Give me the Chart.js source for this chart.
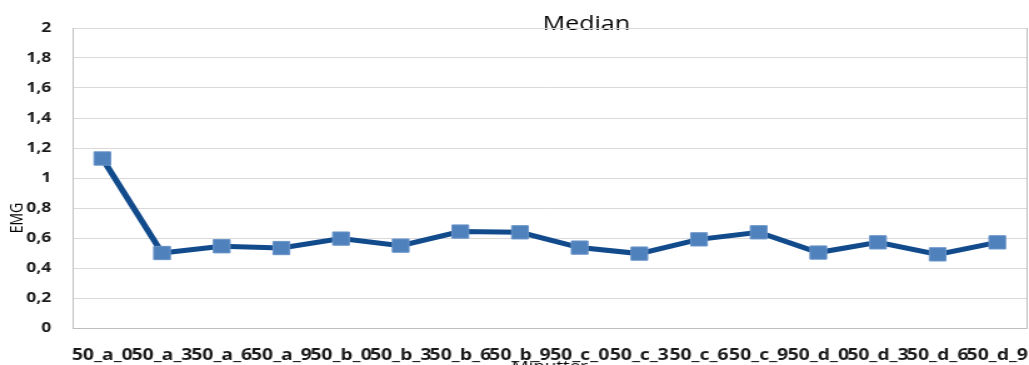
<!DOCTYPE html>
<html>
<head>
<meta charset="utf-8">
<title>Median</title>
<script src="https://cdn.jsdelivr.net/npm/chart.js@4.4.1/dist/chart.umd.min.js"></script>
<style>
  html, body { margin: 0; padding: 0; background: #fff; overflow: hidden; }
  /* the chart is laid out narrow and widened, as in the exported sheet */
  #wrap { width: 823px; height: 365px; transform: scaleX(1.2503); transform-origin: 0 0; }
</style>
</head>
<body>
<div id="wrap"><canvas id="medianChart" width="823" height="365"></canvas></div>
<script>
// ============================================================
// DATA
// ============================================================
const categories = [
    '50_a_0', '50_a_3', '50_a_6', '50_a_9',
    '50_b_0', '50_b_3', '50_b_6', '50_b_9',
    '50_c_0', '50_c_3', '50_c_6', '50_c_9',
    '50_d_0', '50_d_3', '50_d_6', '50_d_9'
];
const medianValues = [
    1.13, 0.50, 0.545, 0.533,
    0.596, 0.549, 0.643, 0.638,
    0.536, 0.496, 0.591, 0.638,
    0.503, 0.571, 0.491, 0.571
];
const yMin = 0;
const yMax = 2;
const yStep = 0.2;

const TITLE = 'Median';
const X_TITLE = 'Minutter';
const Y_TITLE = 'EMG';

// ============================================================
// UTIL
// ============================================================
function commaNumber(v) {
    return String(Math.round(v * 10) / 10).replace('.', ',');
}

// titles + right frame line, drawn straight on the canvas
const chartTexts = {
    id: 'chartTexts',
    beforeDraw(chart) {
        const { ctx, chartArea } = chart;
        ctx.save();
        ctx.fillStyle = '#000';
        ctx.textAlign = 'center';

        ctx.font = '20px "Open Sans"';
        ctx.textBaseline = 'alphabetic';
        ctx.fillText(TITLE, 469, 30);

        // axis title sits low, tick labels end up on top of it
        ctx.font = '15px "Open Sans"';
        ctx.fillText(X_TITLE, (chartArea.left + chartArea.right) / 2, 371);

        ctx.translate(14.5, 218);
        ctx.rotate(-Math.PI / 2);
        ctx.font = '14px "Open Sans"';
        ctx.textBaseline = 'middle';
        ctx.fillText(Y_TITLE, 0, 0);
        ctx.restore();
    },
    afterDraw(chart) {
        const { ctx, chartArea } = chart;
        ctx.save();
        ctx.strokeStyle = '#BFBFBF';
        ctx.lineWidth = 1;
        ctx.beginPath();
        ctx.moveTo(Math.round(chartArea.right) - 0.5, chartArea.top);
        ctx.lineTo(Math.round(chartArea.right) - 0.5, chartArea.bottom);
        ctx.stroke();
        ctx.restore();
    }
};

// ============================================================
// CHART
// ============================================================
const ctx = document.getElementById('medianChart').getContext('2d');

new Chart(ctx, {
    type: 'line',
    data: {
        labels: categories,
        datasets: [{
            label: TITLE,
            data: medianValues,
            borderColor: '#124B8C',
            borderWidth: 5,
            tension: 0,
            fill: false,
            pointStyle: 'rect',
            pointRadius: 9.4,
            pointBackgroundColor: '#4F81BD',
            pointBorderColor: '#6A94C8',
            pointBorderWidth: 1
        }]
    },
    options: {
        responsive: false,
        devicePixelRatio: 1,
        animation: false,
        layout: {
            autoPadding: false,
            padding: { top: 28, right: 1.5, left: 0, bottom: 0 }
        },
        plugins: {
            legend: { display: false },
            title: { display: false },
            tooltip: { enabled: false }
        },
        scales: {
            x: {
                offset: true,
                grid: { display: false, drawTicks: false },
                border: { display: true, color: '#BFBFBF', width: 1 },
                ticks: {
                    autoSkip: false,
                    maxRotation: 0,
                    minRotation: 0,
                    padding: 18,
                    color: '#1a1a1a',
                    font: { family: '"Open Sans"', size: 15.5, weight: 'bold' }
                },
                afterFit(scale) {
                    scale.height = 37;
                    scale.paddingLeft = 0;
                    scale.paddingRight = 0;
                }
            },
            y: {
                min: yMin,
                max: yMax,
                grid: { color: '#D9D9D9', lineWidth: 1, drawTicks: false },
                border: { display: true, color: '#BFBFBF', width: 1 },
                ticks: {
                    stepSize: yStep,
                    padding: 17,
                    color: '#1a1a1a',
                    font: { family: '"Open Sans"', size: 14, weight: 'bold' },
                    callback: value => commaNumber(value)
                },
                afterFit(scale) { scale.width = 58; }
            }
        }
    },
    plugins: [chartTexts]
});
</script>
</body>
</html>
